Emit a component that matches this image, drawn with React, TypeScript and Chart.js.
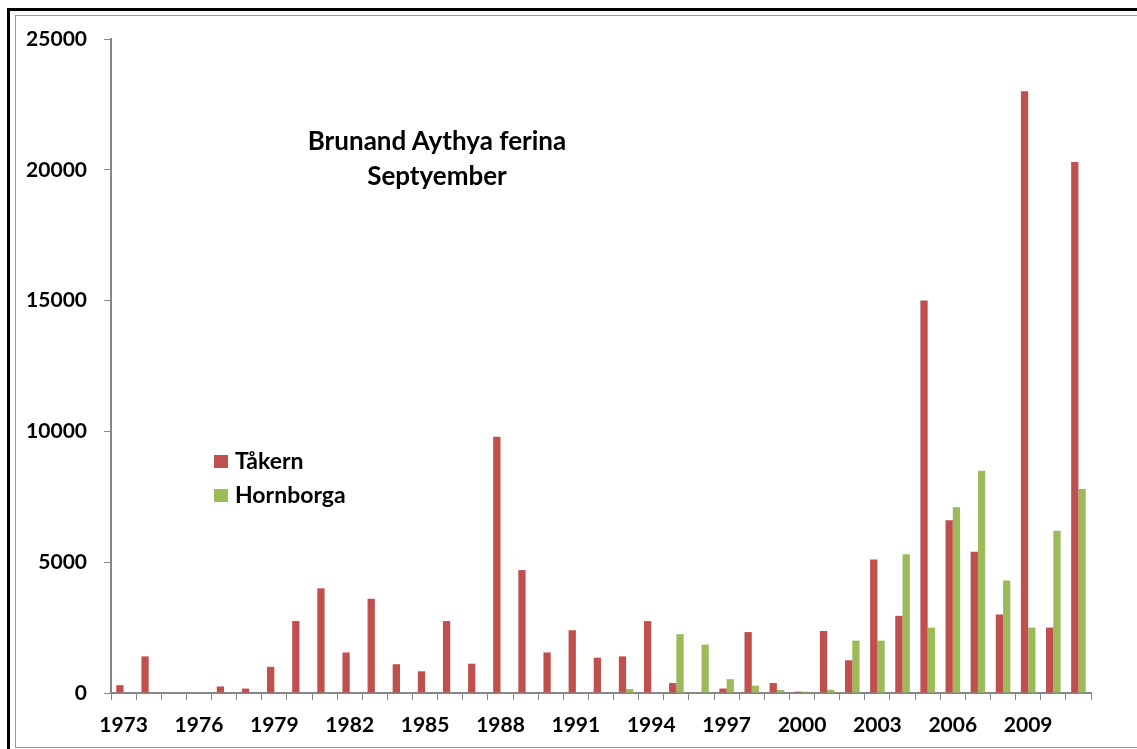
import React, { useEffect, useRef } from "react";
import { Chart, registerables } from "chart.js";

Chart.register(...registerables);

const years: string[] = [
  "1973", "1974", "1975", "1976", "1977", "1978", "1979", "1980", "1981", "1982",
  "1983", "1984", "1985", "1986", "1987", "1988", "1989", "1990", "1991", "1992",
  "1993", "1994", "1995", "1996", "1997", "1998", "1999", "2000", "2001", "2002",
  "2003", "2004", "2005", "2006", "2007", "2008", "2009", "2010", "2011",
];

const takern: number[] = [
  300, 1400, 0, 20, 250, 170, 1000, 2750, 4000, 1550,
  3600, 1100, 830, 2750, 1120, 9800, 4700, 1550, 2400, 1350,
  1400, 2750, 380, 20, 170, 2330, 380, 50, 2370, 1250,
  5100, 2950, 15000, 6600, 5400, 3000, 23000, 2500, 20300,
];

const hornborga: number[] = [
  0, 0, 0, 0, 0, 0, 0, 0, 0, 0,
  0, 0, 0, 0, 0, 0, 0, 0, 0, 0,
  150, 0, 2250, 1850, 530, 280, 115, 50, 125, 2000,
  2000, 5300, 2500, 7100, 8500, 4300, 2500, 6200, 7800,
];

const yTicks: number[] = [0, 5000, 10000, 15000, 20000, 25000];

const seriesNames: string[] = ["Tåkern", "Hornborga"];
const seriesColors: string[] = ["#C0504D", "#9BBB59"];
const titleLines: string[] = ["Brunand Aythya ferina", "Septyember"];

const FONT = "Lato, 'Open Sans', sans-serif";

export default function App() {
  const canvasRef = useRef<HTMLCanvasElement | null>(null);

  useEffect(() => {
    const canvas = canvasRef.current;
    if (!canvas) return;
    const axisColor = "#868686";
    const chart = new Chart(canvas, {
      type: "bar",
      data: {
        labels: years,
        datasets: [
          {
            label: seriesNames[0],
            data: takern,
            backgroundColor: seriesColors[0],
            borderWidth: 0,
            barPercentage: 1,
            categoryPercentage: 0.58,
          },
          {
            label: seriesNames[1],
            data: hornborga,
            backgroundColor: seriesColors[1],
            borderWidth: 0,
            barPercentage: 1,
            categoryPercentage: 0.58,
          },
        ],
      },
      options: {
        responsive: false,
        animation: false,
        maintainAspectRatio: false,
        layout: { padding: { left: 0, right: 46, top: 39, bottom: 0 } },
        plugins: {
          legend: { display: false },
          title: { display: false },
          tooltip: { enabled: false },
        },
        scales: {
          x: {
            type: "category",
            border: { display: true, color: axisColor, width: 2 },
            grid: {
              display: true,
              drawOnChartArea: false,
              drawTicks: true,
              tickLength: 7,
              color: axisColor,
              lineWidth: 1,
              offset: true,
            },
            ticks: {
              autoSkip: false,
              maxRotation: 0,
              minRotation: 0,
              padding: 13,
              color: "#000",
              font: { family: FONT, size: 21, weight: "bold" },
              callback: (_v: any, index: number) => (index % 3 === 0 ? years[index] : ""),
            },
            afterFit: (scale: any) => {
              scale.height = 56;
            },
          },
          y: {
            min: 0,
            max: 25000,
            border: { display: true, color: axisColor, width: 2 },
            grid: {
              display: true,
              drawOnChartArea: false,
              drawTicks: true,
              tickLength: 7,
              color: axisColor,
              lineWidth: 1,
            },
            afterBuildTicks: (scale: any) => {
              scale.ticks = yTicks.map((v) => ({ value: v }));
            },
            ticks: {
              padding: 17,
              color: "#000",
              font: { family: FONT, size: 21, weight: "bold" },
              callback: (v: any) => String(v),
            },
            afterFit: (scale: any) => {
              scale.width = 111;
            },
          },
        },
      },
    });
    return () => chart.destroy();
  }, []);

  const textStyle: React.CSSProperties = {
    position: "absolute",
    fontFamily: FONT,
    fontWeight: 700,
    color: "#000",
    whiteSpace: "nowrap",
    lineHeight: "23px",
    fontSize: 23,
  };

  return (
    <div
      style={{
        position: "absolute",
        left: 0,
        top: 0,
        width: 1137,
        height: 749,
        overflow: "hidden",
        background: "#fff",
      }}
    >
      <div
        style={{
          position: "absolute",
          left: 7,
          top: 8,
          width: 1300,
          height: 900,
          border: "3px solid #000",
          boxSizing: "border-box",
        }}
      />
      <div
        style={{
          position: "absolute",
          left: 15,
          top: 15,
          width: 1300,
          height: 733,
          border: "1px solid #9a9a9a",
          boxSizing: "border-box",
        }}
      />
      <canvas
        ref={canvasRef}
        width={1137}
        height={749}
        style={{ position: "absolute", left: 0, top: 0, width: 1137, height: 749 }}
      />
      <div
        style={{
          position: "absolute",
          left: 237,
          top: 123,
          width: 400,
          textAlign: "center",
        }}
      >
        {titleLines.map((t, i) => (
          <div
            key={i}
            style={{
              fontFamily: FONT,
              fontWeight: 700,
              fontSize: 26,
              lineHeight: "35px",
              color: "#000",
              whiteSpace: "nowrap",
            }}
          >
            {t}
          </div>
        ))}
      </div>
      {seriesNames.map((name, i) => (
        <React.Fragment key={name}>
          <div
            style={{
              position: "absolute",
              left: 214,
              top: 455 + i * 34,
              width: 14,
              height: 13,
              background: seriesColors[i],
            }}
          />
          <div style={{ ...textStyle, left: 235, top: 449 + i * 34 }}>{name}</div>
        </React.Fragment>
      ))}
    </div>
  );
}
